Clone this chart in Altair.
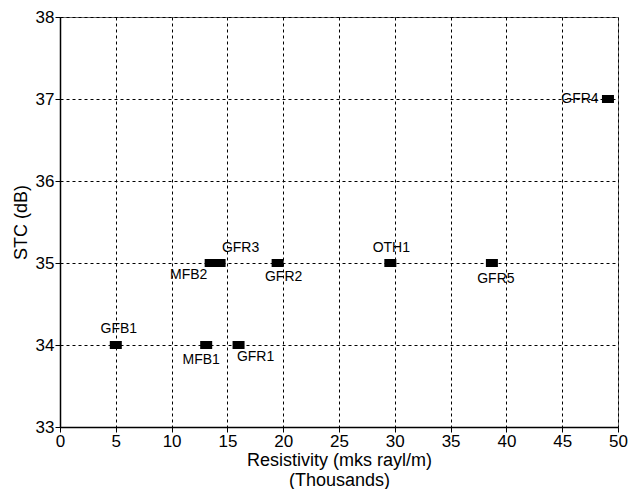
import altair as alt
import pandas as pd

names = ["GFB1", "MFB1", "GFR1", "MFB2", "GFR3", "GFR2", "OTH1", "GFR5", "GFR4"]
resistivity = [5.0, 13.1, 16.0, 13.5, 14.3, 19.5, 29.6, 38.7, 49.1]
stc = [34, 34, 34, 35, 35, 35, 35, 35, 37]
x_ticks = [0, 5, 10, 15, 20, 25, 30, 35, 40, 45, 50]
y_ticks = [33, 34, 35, 36, 37, 38]

df = pd.DataFrame({"name": names, "x": resistivity, "y": stc})

FONT = "Liberation Sans"

base = alt.Chart(df)

x_enc = alt.X("x:Q", scale=alt.Scale(domain=[0, 50], nice=False),
              axis=alt.Axis(values=x_ticks, format="d",
                            title=["Resistivity (mks rayl/m)", "(Thousands)"]))
y_enc = alt.Y("y:Q", scale=alt.Scale(domain=[33, 38], nice=False, zero=False),
              axis=alt.Axis(values=y_ticks, format="d", title="STC (dB)"))

rect_shape = "M-1,-0.67L1,-0.67L1,0.67L-1,0.67Z"
markers = base.mark_point(shape=rect_shape, size=144, filled=True, color="black",
                          opacity=1, strokeWidth=0).encode(x=x_enc, y=y_enc)

placements = {
    "GFB1": (3, -16),
    "MFB1": (-5, 15),
    "GFR1": (17, 12),
    "MFB2": (-22, 12),
    "GFR3": (21, -15),
    "GFR2": (6, 14),
    "OTH1": (1, -15),
    "GFR5": (4, 16),
    "GFR4": (-28, 0),
}

layers = [markers]
for nm, (dx, dy) in placements.items():
    layers.append(
        base.transform_filter(alt.datum.name == nm)
        .mark_text(dx=dx, dy=dy, font=FONT, fontSize=14, color="black",
                   align="center", baseline="middle")
        .encode(x="x:Q", y="y:Q", text="name:N")
    )

chart = alt.layer(*layers).properties(
    width=558, height=410,
    padding={"left": 4, "top": 0, "right": 0, "bottom": 0},
).configure_view(
    stroke="#666", strokeWidth=1
).configure_axis(
    grid=True, gridColor="black", gridDash=[3, 3], gridWidth=1, gridOpacity=1,
    domainColor="black", domainWidth=1.5, tickColor="black", tickSize=5, tickWidth=1,
    labelFont=FONT, labelFontSize=17, labelColor="black", labelPadding=1,
    titleFont=FONT, titleFontSize=18, titleFontWeight="normal", titleColor="black",
    labelFlush=False,
).configure_axisY(titlePadding=5).configure_axisX(titlePadding=2)

chart.save("out.html", embed_options={"renderer": "svg", "actions": False})
